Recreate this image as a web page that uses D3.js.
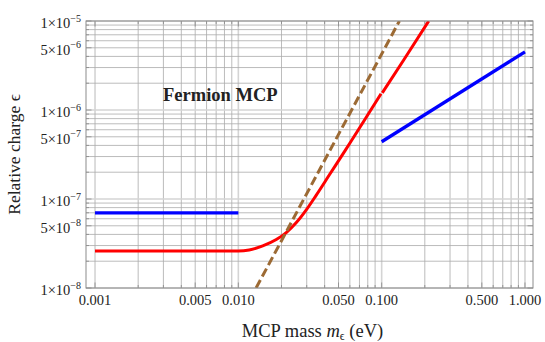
<!DOCTYPE html>
<html>
<head>
<meta charset="utf-8">
<script src="https://cdn.jsdelivr.net/npm/d3@7"></script>
<style>
  body { margin: 0; background: #fff; }
  text { font-family: "Liberation Serif", "Times New Roman", serif; fill: #222; }
</style>
</head>
<body>
<svg id="chart" width="545" height="342"></svg>
<script>
// tick labels
const xTickVals = [0.001, 0.005, 0.01, 0.05, 0.1, 0.5, 1];
const xTickLabels = ["0.001", "0.005", "0.010", "0.050", "0.100", "0.500", "1.000"];
const yTickVals = [1e-5, 5e-6, 1e-6, 5e-7, 1e-7, 5e-8, 1e-8];
const yTickMant = ["1", "5", "1", "5", "1", "5", "1"];
const yTickExp = ["\u22125", "\u22126", "\u22126", "\u22127", "\u22127", "\u22128", "\u22128"];

// series (mass in eV, charge)
const blueLow = [[0.001, 7.0e-8], [0.01, 7.0e-8]];
const blueHigh = [[0.1, 4.4e-7], [1, 4.5e-6]];
const redLow = [[0.001, 2.6e-8], [0.01, 2.6e-8], [0.0119, 2.67e-8], [0.0148, 2.97e-8], [0.0184, 3.5e-8],
  [0.0216, 4.2e-8], [0.0253, 5.4e-8], [0.0297, 7.5e-8], [0.0349, 1.1e-7], [0.0432, 1.87e-7],
  [0.056, 3.56e-7], [0.099, 1.52e-6]];
const redHigh = [[0.101, 1.56e-6], [0.1425, 3.65e-6], [0.213, 1e-5]];
const brownDash = [[0.0133, 1e-8], [0.133, 1e-5]];

const margins = { left: 86, right: 12, top: 21, bottom: 54 };
const svg = d3.select("#chart");
const W = 545, H = 342;
const width = W - margins.left - margins.right;
const height = H - margins.top - margins.bottom;

const x = d3.scaleLog().domain([Math.pow(10, -3.063), Math.pow(10, 0.056)]).range([0, width]);
const y = d3.scaleLog().domain([1e-8, 1e-5]).range([height, 0]);

// all 1..9 x decade positions
const gridX = [];
for (let d = -3; d <= -1; d++) for (let k = 1; k <= 9; k++) gridX.push(k * Math.pow(10, d));
gridX.push(1);
const gridY = [];
for (let d = -8; d <= -6; d++) for (let k = 1; k <= 9; k++) gridY.push(k * Math.pow(10, d));
gridY.push(1e-5);
const isDecade = (v) => Math.abs(Math.log10(v) - Math.round(Math.log10(v))) < 1e-6;

const g = svg.append("g").attr("transform", `translate(${margins.left}, ${margins.top})`);

g.append("clipPath").attr("id", "clip")
  .append("rect").attr("width", width).attr("height", height);

// grid lines
g.append("g").selectAll("line").data(gridX).join("line")
  .attr("x1", (d) => x(d)).attr("x2", (d) => x(d))
  .attr("y1", 0).attr("y2", height)
  .attr("stroke", (d) => (isDecade(d) ? "#d4d4d4" : "#ababab"))
  .attr("stroke-width", (d) => (isDecade(d) ? 1.6 : 0.8));
g.append("g").selectAll("line").data(gridY).join("line")
  .attr("y1", (d) => y(d)).attr("y2", (d) => y(d))
  .attr("x1", 0).attr("x2", width)
  .attr("stroke", (d) => (isDecade(d) ? "#d4d4d4" : "#ababab"))
  .attr("stroke-width", (d) => (isDecade(d) ? 1.6 : 0.8));

// frame ticks (inward)
const tickLen = (v) => (xTickVals.concat(yTickVals).some((t) => Math.abs(t / v - 1) < 1e-6) ? 5.5 : 3);
const ticks = g.append("g").attr("stroke", "#888").attr("stroke-width", 0.8);
gridX.forEach((v) => {
  ticks.append("line").attr("x1", x(v)).attr("x2", x(v)).attr("y1", height).attr("y2", height - tickLen(v));
  ticks.append("line").attr("x1", x(v)).attr("x2", x(v)).attr("y1", 0).attr("y2", tickLen(v));
});
gridY.forEach((v) => {
  ticks.append("line").attr("y1", y(v)).attr("y2", y(v)).attr("x1", 0).attr("x2", tickLen(v));
  ticks.append("line").attr("y1", y(v)).attr("y2", y(v)).attr("x1", width).attr("x2", width - tickLen(v));
});

// curves
const line = d3.line().x((d) => x(d[0])).y((d) => y(d[1]));
const plot = g.append("g").attr("clip-path", "url(#clip)");
plot.append("path").datum(redLow).attr("fill", "none").attr("stroke", "#ff0000").attr("stroke-width", 3)
  .attr("d", line.curve(d3.curveMonotoneX));
plot.append("path").datum(redHigh).attr("fill", "none").attr("stroke", "#ff0000").attr("stroke-width", 3)
  .attr("d", line.curve(d3.curveMonotoneX));
line.curve(d3.curveLinear);
plot.append("path").datum(blueLow).attr("fill", "none").attr("stroke", "#0000ff").attr("stroke-width", 3.3).attr("d", line);
plot.append("path").datum(blueHigh).attr("fill", "none").attr("stroke", "#0000ff").attr("stroke-width", 3.3).attr("d", line);
plot.append("path").datum(brownDash).attr("fill", "none").attr("stroke", "#9c6a34").attr("stroke-width", 3)
  .attr("stroke-dasharray", "9,4").attr("d", line);

// frame
g.append("rect").attr("width", width).attr("height", height)
  .attr("fill", "none").attr("stroke", "#8c8c8c").attr("stroke-width", 1);

// tick labels
g.append("g").selectAll("text").data(xTickVals).join("text")
  .attr("x", (d) => x(d)).attr("y", height + 17)
  .attr("text-anchor", "middle").attr("font-size", 14.5)
  .text((d, i) => xTickLabels[i]);

const yl = g.append("g").selectAll("text").data(yTickVals).join("text")
  .attr("x", -5).attr("y", (d) => y(d) + 7)
  .attr("text-anchor", "end").attr("font-size", 14.5);
yl.append("tspan").text((d, i) => yTickMant[i] + "\u00d710");
yl.append("tspan").attr("dy", -6.5).attr("font-size", 10).text((d, i) => yTickExp[i]);

// annotation
g.append("text").attr("x", 77).attr("y", 80)
  .attr("font-size", 18.5).attr("font-weight", "bold").text("Fermion MCP");

// axis titles
const xt = svg.append("text").attr("x", margins.left + width / 2 + 3).attr("y", 337)
  .attr("text-anchor", "middle").attr("font-size", 18.5);
xt.append("tspan").text("MCP mass ");
xt.append("tspan").attr("font-style", "italic").text("m");
xt.append("tspan").attr("font-size", 12).attr("dy", 3).text("\u03f5");
xt.append("tspan").attr("dy", -3).text(" (eV)");

svg.append("text")
  .attr("transform", `translate(20, ${margins.top + height / 2}) rotate(-90)`)
  .attr("text-anchor", "middle").attr("font-size", 17.5)
  .text("Relative charge \u03f5");
</script>
</body>
</html>
